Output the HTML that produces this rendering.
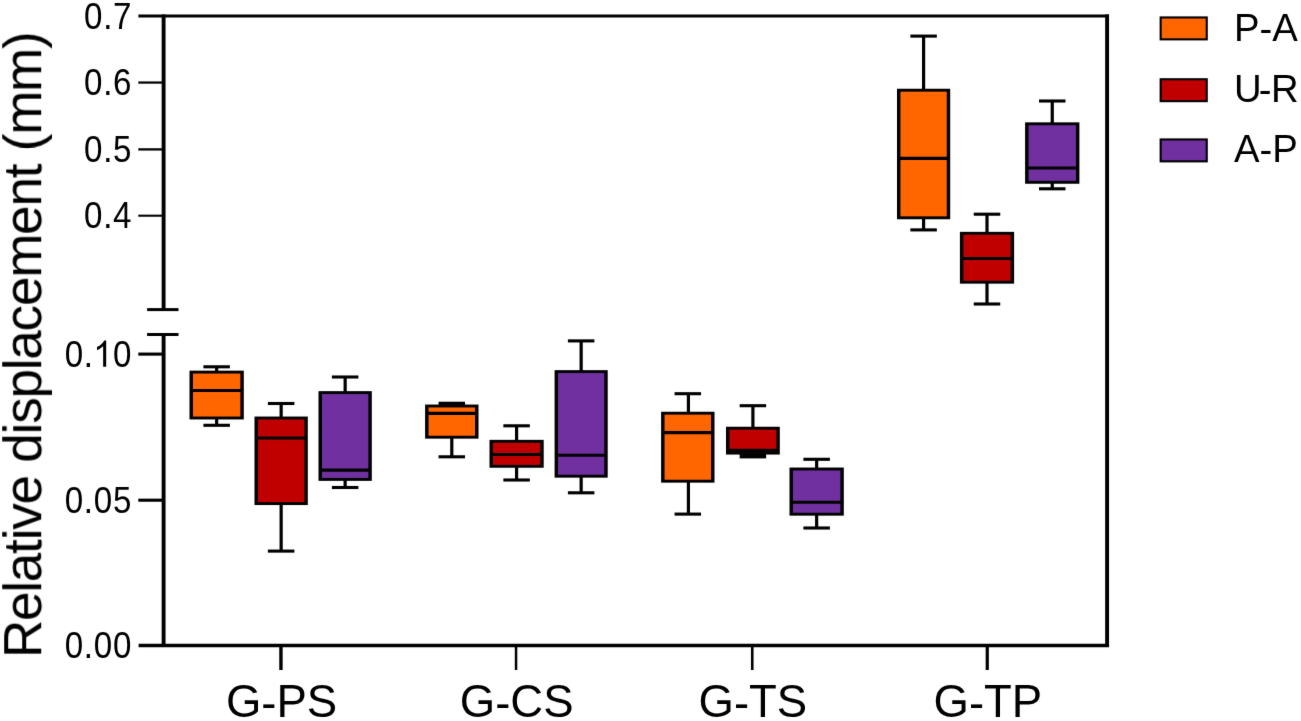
<!DOCTYPE html>
<html><head><meta charset="utf-8"><style>
html,body{margin:0;padding:0;background:#fff;}
svg{display:block;}
#wrap{width:1301px;height:721px;overflow:hidden;will-change:transform;}
text{font-family:"Liberation Sans",sans-serif;fill:#000;}
</style></head><body>
<div id="wrap"><svg width="1301" height="721" viewBox="0 0 1301 721">
<defs><filter id="bl" x="0" y="0" width="1301" height="721" filterUnits="userSpaceOnUse" color-interpolation-filters="sRGB"><feConvolveMatrix order="3" kernelMatrix="0.00524 0.06192 0.00524 0.06192 0.73137 0.06192 0.00524 0.06192 0.00524" divisor="1" edgeMode="none" preserveAlpha="false"/></filter></defs>
<rect width="1301" height="721" fill="#fff"/>
<g filter="url(#bl)">
<g stroke="#000" stroke-linecap="butt" fill="none">
<line x1="138.40" y1="16.00" x2="1109.05" y2="16.00" stroke-width="3.2"/>
<line x1="163.60" y1="14.40" x2="163.60" y2="309.60" stroke-width="3.9"/>
<line x1="163.60" y1="334.50" x2="163.60" y2="647.10" stroke-width="3.9"/>
<line x1="147.10" y1="309.60" x2="178.50" y2="309.60" stroke-width="3.0"/>
<line x1="147.10" y1="334.50" x2="178.50" y2="334.50" stroke-width="3.0"/>
<line x1="1107.10" y1="14.40" x2="1107.10" y2="647.10" stroke-width="3.9"/>
<line x1="138.60" y1="645.50" x2="1109.05" y2="645.50" stroke-width="3.6"/>
<line x1="138.30" y1="82.55" x2="163.60" y2="82.55" stroke-width="2.25"/>
<line x1="138.30" y1="149.40" x2="163.60" y2="149.40" stroke-width="2.3"/>
<line x1="138.30" y1="215.70" x2="163.60" y2="215.70" stroke-width="2.1"/>
<line x1="138.30" y1="354.10" x2="163.60" y2="354.10" stroke-width="3.1"/>
<line x1="138.30" y1="500.20" x2="163.60" y2="500.20" stroke-width="3.1"/>
<line x1="280.95" y1="645.50" x2="280.95" y2="670.00" stroke-width="3.4"/>
<line x1="516.05" y1="645.50" x2="516.05" y2="670.00" stroke-width="2.5"/>
<line x1="752.25" y1="645.50" x2="752.25" y2="670.00" stroke-width="2.6"/>
<line x1="987.25" y1="645.50" x2="987.25" y2="670.00" stroke-width="3.2"/>
<line x1="216.65" y1="366.80" x2="216.65" y2="372.10" stroke-width="3.2"/>
<line x1="216.65" y1="418.00" x2="216.65" y2="425.30" stroke-width="3.2"/>
<line x1="203.40" y1="366.80" x2="229.90" y2="366.80" stroke-width="3.1"/>
<line x1="203.40" y1="425.30" x2="229.90" y2="425.30" stroke-width="3.1"/>
<rect x="189.50" y="370.65" width="54.30" height="48.80" fill="#000" stroke="none"/>
<rect x="192.95" y="373.55" width="47.40" height="43.00" fill="#FF6600" stroke="none"/>
<line x1="191.22" y1="390.50" x2="242.08" y2="390.50" stroke-width="3.1"/>
<line x1="281.15" y1="403.50" x2="281.15" y2="418.00" stroke-width="3.2"/>
<line x1="281.15" y1="503.60" x2="281.15" y2="551.10" stroke-width="3.2"/>
<line x1="267.90" y1="403.50" x2="294.40" y2="403.50" stroke-width="3.1"/>
<line x1="267.90" y1="551.10" x2="294.40" y2="551.10" stroke-width="3.1"/>
<rect x="254.50" y="416.55" width="53.30" height="88.50" fill="#000" stroke="none"/>
<rect x="257.95" y="419.45" width="46.40" height="82.70" fill="#C00000" stroke="none"/>
<line x1="256.23" y1="438.00" x2="306.07" y2="438.00" stroke-width="3.1"/>
<line x1="345.15" y1="377.00" x2="345.15" y2="392.60" stroke-width="3.2"/>
<line x1="345.15" y1="479.40" x2="345.15" y2="487.50" stroke-width="3.2"/>
<line x1="331.90" y1="377.00" x2="358.40" y2="377.00" stroke-width="3.1"/>
<line x1="331.90" y1="487.50" x2="358.40" y2="487.50" stroke-width="3.1"/>
<rect x="318.50" y="391.15" width="53.30" height="89.70" fill="#000" stroke="none"/>
<rect x="321.95" y="394.05" width="46.40" height="83.90" fill="#7030A0" stroke="none"/>
<line x1="320.23" y1="470.10" x2="370.07" y2="470.10" stroke-width="3.1"/>
<line x1="451.80" y1="403.40" x2="451.80" y2="406.00" stroke-width="3.2"/>
<line x1="451.80" y1="437.20" x2="451.80" y2="456.80" stroke-width="3.2"/>
<line x1="438.55" y1="403.40" x2="465.05" y2="403.40" stroke-width="3.4"/>
<line x1="438.55" y1="456.80" x2="465.05" y2="456.80" stroke-width="3.1"/>
<rect x="425.10" y="404.55" width="53.40" height="34.10" fill="#000" stroke="none"/>
<rect x="428.55" y="407.45" width="46.50" height="28.30" fill="#FF6600" stroke="none"/>
<line x1="426.83" y1="413.40" x2="476.77" y2="413.40" stroke-width="3.1"/>
<line x1="516.60" y1="425.80" x2="516.60" y2="441.30" stroke-width="3.2"/>
<line x1="516.60" y1="466.30" x2="516.60" y2="480.00" stroke-width="3.2"/>
<line x1="503.35" y1="425.80" x2="529.85" y2="425.80" stroke-width="3.1"/>
<line x1="503.35" y1="480.00" x2="529.85" y2="480.00" stroke-width="3.1"/>
<rect x="489.50" y="439.85" width="54.20" height="27.90" fill="#000" stroke="none"/>
<rect x="492.95" y="442.75" width="47.30" height="22.10" fill="#C00000" stroke="none"/>
<line x1="491.23" y1="454.50" x2="541.98" y2="454.50" stroke-width="3.1"/>
<line x1="581.15" y1="340.90" x2="581.15" y2="371.60" stroke-width="3.2"/>
<line x1="581.15" y1="476.20" x2="581.15" y2="492.80" stroke-width="3.2"/>
<line x1="567.90" y1="340.90" x2="594.40" y2="340.90" stroke-width="3.1"/>
<line x1="567.90" y1="492.80" x2="594.40" y2="492.80" stroke-width="3.1"/>
<rect x="554.60" y="370.15" width="53.10" height="107.50" fill="#000" stroke="none"/>
<rect x="558.05" y="373.05" width="46.20" height="101.70" fill="#7030A0" stroke="none"/>
<line x1="556.33" y1="455.20" x2="605.98" y2="455.20" stroke-width="3.1"/>
<line x1="688.40" y1="393.70" x2="688.40" y2="413.20" stroke-width="3.2"/>
<line x1="688.40" y1="481.20" x2="688.40" y2="514.10" stroke-width="3.2"/>
<line x1="674.55" y1="393.70" x2="701.05" y2="393.70" stroke-width="3.1"/>
<line x1="674.55" y1="514.10" x2="701.05" y2="514.10" stroke-width="3.1"/>
<rect x="661.10" y="411.75" width="53.40" height="70.90" fill="#000" stroke="none"/>
<rect x="664.55" y="414.65" width="46.50" height="65.10" fill="#FF6600" stroke="none"/>
<line x1="662.83" y1="432.60" x2="712.77" y2="432.60" stroke-width="3.1"/>
<line x1="752.90" y1="405.70" x2="752.90" y2="428.20" stroke-width="3.2"/>
<line x1="752.90" y1="453.10" x2="752.90" y2="456.20" stroke-width="3.2"/>
<line x1="739.65" y1="405.70" x2="766.15" y2="405.70" stroke-width="3.1"/>
<line x1="739.65" y1="456.20" x2="766.15" y2="456.20" stroke-width="4.4"/>
<rect x="726.00" y="426.75" width="53.80" height="27.80" fill="#000" stroke="none"/>
<rect x="729.45" y="429.65" width="46.90" height="22.00" fill="#C00000" stroke="none"/>
<line x1="727.73" y1="450.40" x2="778.07" y2="450.40" stroke-width="3.5"/>
<line x1="816.65" y1="459.30" x2="816.65" y2="469.00" stroke-width="3.2"/>
<line x1="816.65" y1="514.20" x2="816.65" y2="528.00" stroke-width="3.2"/>
<line x1="803.40" y1="459.30" x2="829.90" y2="459.30" stroke-width="3.1"/>
<line x1="803.40" y1="528.00" x2="829.90" y2="528.00" stroke-width="3.1"/>
<rect x="789.50" y="467.55" width="54.30" height="48.10" fill="#000" stroke="none"/>
<rect x="792.95" y="470.45" width="47.40" height="42.30" fill="#7030A0" stroke="none"/>
<line x1="791.23" y1="502.20" x2="842.07" y2="502.20" stroke-width="3.1"/>
<line x1="923.60" y1="36.10" x2="923.60" y2="90.20" stroke-width="3.2"/>
<line x1="923.60" y1="217.80" x2="923.60" y2="229.90" stroke-width="3.2"/>
<line x1="910.35" y1="36.10" x2="936.85" y2="36.10" stroke-width="3.1"/>
<line x1="910.35" y1="229.90" x2="936.85" y2="229.90" stroke-width="3.1"/>
<rect x="897.00" y="88.75" width="53.20" height="130.50" fill="#000" stroke="none"/>
<rect x="900.45" y="91.65" width="46.30" height="124.70" fill="#FF6600" stroke="none"/>
<line x1="898.73" y1="158.40" x2="948.48" y2="158.40" stroke-width="3.1"/>
<line x1="987.00" y1="214.20" x2="987.00" y2="233.30" stroke-width="3.2"/>
<line x1="987.00" y1="282.20" x2="987.00" y2="304.00" stroke-width="3.2"/>
<line x1="973.75" y1="214.20" x2="1000.25" y2="214.20" stroke-width="3.1"/>
<line x1="973.75" y1="304.00" x2="1000.25" y2="304.00" stroke-width="3.1"/>
<rect x="959.90" y="231.85" width="54.20" height="51.80" fill="#000" stroke="none"/>
<rect x="963.35" y="234.75" width="47.30" height="46.00" fill="#C00000" stroke="none"/>
<line x1="961.62" y1="258.50" x2="1012.38" y2="258.50" stroke-width="3.1"/>
<line x1="1052.25" y1="101.00" x2="1052.25" y2="123.80" stroke-width="3.2"/>
<line x1="1052.25" y1="182.30" x2="1052.25" y2="188.80" stroke-width="3.2"/>
<line x1="1039.00" y1="101.00" x2="1065.50" y2="101.00" stroke-width="3.1"/>
<line x1="1039.00" y1="188.80" x2="1065.50" y2="188.80" stroke-width="3.1"/>
<rect x="1025.10" y="122.35" width="54.30" height="61.40" fill="#000" stroke="none"/>
<rect x="1028.55" y="125.25" width="47.40" height="55.60" fill="#7030A0" stroke="none"/>
<line x1="1026.82" y1="168.00" x2="1077.68" y2="168.00" stroke-width="3.1"/>
<rect x="1159.60" y="16.40" width="48.20" height="24.00" fill="#000" stroke="none"/>
<rect x="1161.70" y="18.50" width="44.00" height="19.80" fill="#FF6600" stroke="none"/>
<rect x="1159.60" y="78.20" width="48.20" height="24.00" fill="#000" stroke="none"/>
<rect x="1161.70" y="80.30" width="44.00" height="19.80" fill="#C00000" stroke="none"/>
<rect x="1159.60" y="138.40" width="48.20" height="24.00" fill="#000" stroke="none"/>
<rect x="1161.70" y="140.50" width="44.00" height="19.80" fill="#7030A0" stroke="none"/>
</g>
<g>
<text x="83.62" y="28.65" font-size="34.7" transform="translate(93.26,28.65) scale(0.955,1.07) translate(-93.26,-28.65)">0</text>
<text x="102.91" y="28.65" font-size="34.7" transform="translate(107.73,28.65) scale(1.0,1.07) translate(-107.73,-28.65)">.</text>
<text x="112.55" y="28.65" font-size="34.7" transform="translate(122.22,28.65) scale(0.955,1.07) translate(-122.22,-28.65)">7</text>
<text x="83.62" y="95.50" font-size="34.7" transform="translate(93.26,95.50) scale(0.955,1.07) translate(-93.26,-95.50)">0</text>
<text x="102.91" y="95.50" font-size="34.7" transform="translate(107.73,95.50) scale(1.0,1.07) translate(-107.73,-95.50)">.</text>
<text x="112.55" y="95.50" font-size="34.7" transform="translate(122.32,95.50) scale(0.955,1.07) translate(-122.32,-95.50)">6</text>
<text x="83.62" y="162.20" font-size="34.7" transform="translate(93.26,162.20) scale(0.955,1.07) translate(-93.26,-162.20)">0</text>
<text x="102.91" y="162.20" font-size="34.7" transform="translate(107.73,162.20) scale(1.0,1.07) translate(-107.73,-162.20)">.</text>
<text x="112.55" y="162.20" font-size="34.7" transform="translate(122.17,162.20) scale(0.955,1.07) translate(-122.17,-162.20)">5</text>
<text x="83.62" y="228.50" font-size="34.7" transform="translate(93.26,228.50) scale(0.955,1.07) translate(-93.26,-228.50)">0</text>
<text x="102.91" y="228.50" font-size="34.7" transform="translate(107.73,228.50) scale(1.0,1.07) translate(-107.73,-228.50)">.</text>
<text x="112.55" y="228.50" font-size="34.7" transform="translate(122.09,228.50) scale(0.955,1.07) translate(-122.09,-228.50)">4</text>
<text x="64.32" y="366.70" font-size="34.7" transform="translate(73.97,366.70) scale(0.955,1.07) translate(-73.97,-366.70)">0</text>
<text x="83.62" y="366.70" font-size="34.7" transform="translate(88.44,366.70) scale(1.0,1.07) translate(-88.44,-366.70)">.</text>
<path d="M763 0L583 0L583 1147Q518 1085 412 1023Q306 961 222 930L222 1104Q373 1175 486 1276Q599 1377 646 1472L763 1472Z" transform="translate(93.26,366.70) scale(0.01694,-0.01779)"/>
<text x="112.55" y="366.70" font-size="34.7" transform="translate(122.20,366.70) scale(0.955,1.07) translate(-122.20,-366.70)">0</text>
<text x="64.32" y="512.85" font-size="34.7" transform="translate(73.97,512.85) scale(0.955,1.07) translate(-73.97,-512.85)">0</text>
<text x="83.62" y="512.85" font-size="34.7" transform="translate(88.44,512.85) scale(1.0,1.07) translate(-88.44,-512.85)">.</text>
<text x="93.26" y="512.85" font-size="34.7" transform="translate(102.91,512.85) scale(0.955,1.07) translate(-102.91,-512.85)">0</text>
<text x="112.55" y="512.85" font-size="34.7" transform="translate(122.17,512.85) scale(0.955,1.07) translate(-122.17,-512.85)">5</text>
<text x="64.32" y="658.10" font-size="34.7" transform="translate(73.97,658.10) scale(0.955,1.07) translate(-73.97,-658.10)">0</text>
<text x="83.62" y="658.10" font-size="34.7" transform="translate(88.44,658.10) scale(1.0,1.07) translate(-88.44,-658.10)">.</text>
<text x="93.26" y="658.10" font-size="34.7" transform="translate(102.91,658.10) scale(0.955,1.07) translate(-102.91,-658.10)">0</text>
<text x="112.55" y="658.10" font-size="34.7" transform="translate(122.20,658.10) scale(0.955,1.07) translate(-122.20,-658.10)">0</text>
<text x="281.55" y="717.30" font-size="45.5" text-anchor="middle" >G<tspan dy="1.9">-</tspan><tspan dy="-1.9">PS</tspan></text>
<text x="516.65" y="717.30" font-size="45.5" text-anchor="middle" >G<tspan dy="1.9">-</tspan><tspan dy="-1.9">CS</tspan></text>
<text x="752.85" y="717.30" font-size="45.5" text-anchor="middle" >G<tspan dy="1.9">-</tspan><tspan dy="-1.9">TS</tspan></text>
<text x="987.85" y="717.30" font-size="45.5" text-anchor="middle" >G<tspan dy="1.9">-</tspan><tspan dy="-1.9">TP</tspan></text>
<text x="1234.00" y="41.40" font-size="38.3" text-anchor="start" >P<tspan dy="1">-</tspan><tspan dy="-1">A</tspan></text>
<text x="1234.00" y="101.70" font-size="38.3" text-anchor="start" >U<tspan dx="-2.8" dy="0.8">-</tspan><tspan dx="-0.7" dy="-0.8">R</tspan></text>
<text x="1234.00" y="162.30" font-size="38.3" text-anchor="start" >A<tspan dy="1">-</tspan><tspan dy="-1">P</tspan></text>
<text transform="translate(41.2,653.7) rotate(-90)" x="-4.35" y="0" font-size="53" letter-spacing="-1.2">Relative displacement (mm)</text>
</g>
</g>
</svg></div>
</body></html>
